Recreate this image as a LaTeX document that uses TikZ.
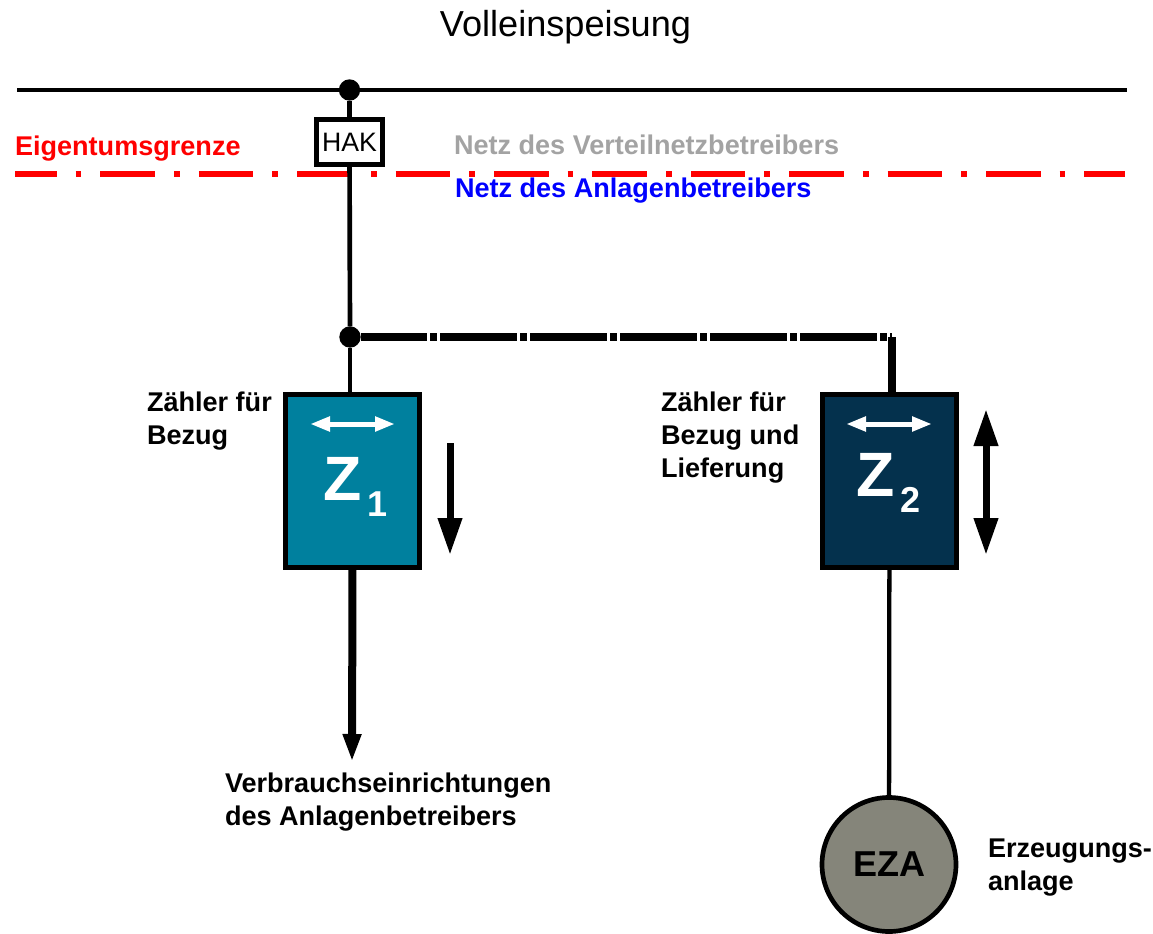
\documentclass[tikz,border=0pt]{standalone}
\usepackage{fontspec}
\setmainfont{Liberation Sans}
\usepackage{xcolor}
\usetikzlibrary{arrows.meta}
\definecolor{zteal}{HTML}{00809E}
\definecolor{znavy}{HTML}{04314D}
\definecolor{ezagray}{HTML}{85857A}
\definecolor{netzgray}{HTML}{A3A3A3}

\begin{document}
\begin{tikzpicture}[
    x=0.75pt, y=-0.75pt,
    lbl/.style={inner sep=0pt, outer sep=0pt, font=\fontsize{20.3}{24.6}\selectfont\bfseries, align=left},
    dot/.style={circle, fill=black, inner sep=0pt, outer sep=0pt, minimum size=16pt},
    meter/.style={rectangle, draw=black, line width=3.75pt, outer sep=0pt, minimum width=100.5pt, minimum height=129.75pt},
    zlab/.style={inner sep=0pt, outer sep=0pt, text=white, font=\fontsize{47}{47}\selectfont\bfseries},
    flow/.style={line width=5.25pt, -{Triangle[length=27.75pt, width=17.25pt]}},
    flowboth/.style={line width=5.25pt, {Triangle[length=27.75pt, width=17.25pt]}-{Triangle[length=27.75pt, width=17.25pt]}},
    inner/.style={draw=white, line width=3.75pt, {Triangle[length=15pt, width=10.5pt]}-{Triangle[length=15pt, width=10.5pt]}}
]
    \useasboundingbox (0,0) rectangle (1153,934);

    % Title
    \node[inner sep=0pt, anchor=base, font=\fontsize{27.1}{30}\selectfont] (title) at (565.5,37) {Volleinspeisung};

    % Mains line with connection point
    \coordinate (busL) at (17,90);
    \coordinate (busR) at (1127,90);
    \draw[line width=2.5pt] (busL) -- (busR);
    \node[dot] (dotA) at (349.5,90) {};

    % Ownership boundary
    \coordinate (grenzeL) at (15,174);
    \coordinate (grenzeR) at (1125,174);
    \draw[red, line width=4.2pt, dash pattern=on 41pt off 14.2pt on 4.4pt off 14.2pt, dash phase=9.75pt] (grenzeL) -- (grenzeR);
    \node[lbl, anchor=base west, text=red] (grenze) at (15,156) {Eigentumsgrenze};
    \node[lbl, anchor=base west, text=netzgray] (netzV) at (454,155) {Netz des Verteilnetzbetreibers};
    \node[lbl, anchor=base west, text=blue] (netzA) at (455,198) {Netz des Anlagenbetreibers};

    % HAK box
    \node[rectangle, draw=black, fill=white, line width=3.75pt, outer sep=0pt, minimum width=49.5pt, minimum height=33.75pt, inner sep=0pt, font=\fontsize{20}{20}\selectfont] (hak) at (349.5,142) {HAK};
    \draw[line width=3.5pt] (dotA) -- (hak);

    % Branch point
    \node[dot] (dotB) at (350,337) {};
    \draw[line width=3.5pt] (hak) -- (dotB);

    % Meters
    \node[meter, fill=zteal] (z1) at (352.5,481) {};
    \node[meter, fill=znavy] (z2) at (889.5,481) {};
    \node[zlab] (z1lab) at (355.3,487) {Z\hspace{4pt}\raisebox{-12pt}{\fontsize{27}{27}\selectfont 1}};
    \node[zlab] (z2lab) at (888.3,483) {Z\hspace{4pt}\raisebox{-12pt}{\fontsize{27}{27}\selectfont 2}};

    \draw[line width=3.5pt] (dotB) -- (dotB |- z1.north);

    % Line over to the second meter
    \coordinate (knick) at (892,337);
    \draw[line width=5.5pt, dash pattern=on 57.75pt off 2.25pt on 5.25pt off 2.25pt, dash phase=8pt] (dotB) -- (knick);
    \draw[line width=5.5pt] (knick) -- (knick |- z2.north);

    % White arrows in the meters
    \coordinate (w1a) at (310,424);
    \coordinate (w1b) at (395,424);
    \coordinate (w2a) at (846,424);
    \coordinate (w2b) at (932,424);
    \draw[inner] (w1a) -- (w1b);
    \draw[inner] (w2a) -- (w2b);

    % Direction arrows
    \coordinate (d1a) at (450,443);
    \coordinate (d1b) at (450,555);
    \coordinate (d2a) at (986,409);
    \coordinate (d2b) at (986,555);
    \draw[flow] (d1a) -- (d1b);
    \draw[flowboth] (d2a) -- (d2b);

    % Meter labels
    \node[lbl, anchor=north west] (z1txt) at (147,392) {Zähler für\\Bezug};
    \node[lbl, anchor=north west] (z2txt) at (661,392) {Zähler für\\Bezug und\\Lieferung};

    % Consumers
    \coordinate (last) at (352,762);
    \draw[line width=6pt, -{Triangle[length=21pt, width=12.75pt]}] (z1.south) -- (last);
    \node[lbl, anchor=north west] (lasttxt) at (225,773) {Verbrauchseinrichtungen\\des Anlagenbetreibers};

    % Generation plant
    \node[circle, draw=black, fill=ezagray, line width=3.5pt, outer sep=0pt, inner sep=0pt, minimum size=100.5pt, font=\fontsize{27}{27}\selectfont\bfseries] (eza) at (889,864.5) {EZA};
    \draw[line width=3.2pt] (z2) -- (eza);
    \node[lbl, anchor=north west] (ezatxt) at (988,839) {Erzeugungs-\\anlage};
\end{tikzpicture}
\end{document}
